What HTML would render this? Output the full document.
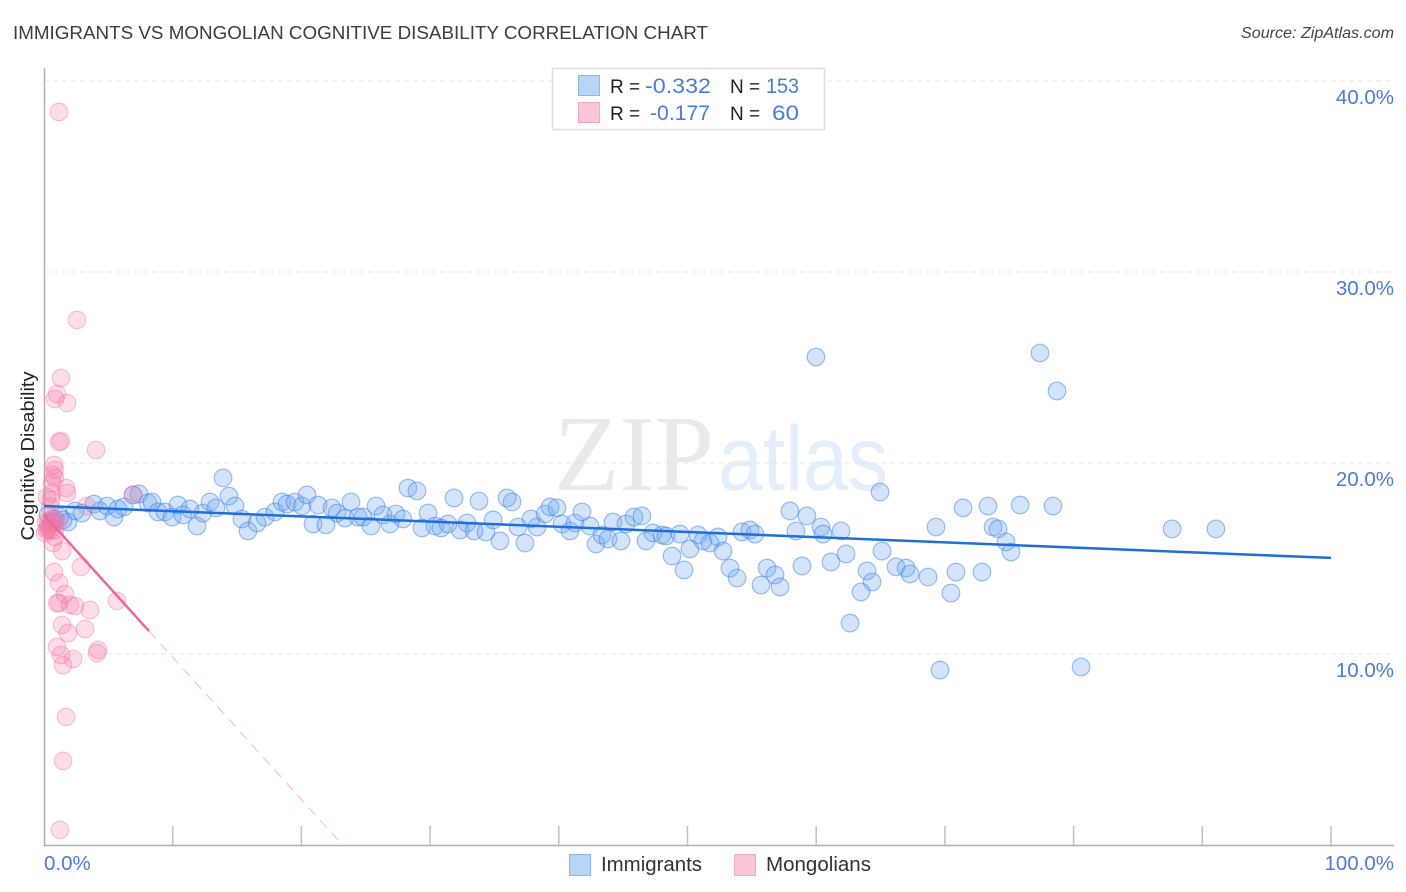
<!DOCTYPE html>
<html lang="en">
<head>
<meta charset="utf-8">
<title>Immigrants vs Mongolian Cognitive Disability Correlation Chart</title>
<style>
  html, body { margin: 0; padding: 0; background: #fff; }
  svg { display: block; font-family: "Liberation Sans", sans-serif; }
</style>
</head>
<body>
<svg id="chart" xmlns="http://www.w3.org/2000/svg" width="1406" height="892" viewBox="0 0 1406 892">
  <rect x="0" y="0" width="1406" height="892" fill="#ffffff"/>
  <text x="13" y="39" font-size="18" fill="#3c3c3c" textLength="695" lengthAdjust="spacingAndGlyphs">IMMIGRANTS VS MONGOLIAN COGNITIVE DISABILITY CORRELATION CHART</text>
  <text x="1241" y="38" font-size="15.5" font-style="italic" fill="#444444" textLength="153" lengthAdjust="spacingAndGlyphs">Source: ZipAtlas.com</text>
  <g>
    <text x="554" y="490" font-family="'Liberation Serif', serif" font-size="108" fill="#e9e9e9" textLength="160" lengthAdjust="spacingAndGlyphs">ZIP</text>
    <text x="718" y="490" font-size="92" fill="#e4edfb" textLength="170" lengthAdjust="spacingAndGlyphs">atlas</text>
  </g>
  <g id="grid"></g>
  <g id="axes"></g>
  <g id="bluePoints"></g>
  <g id="pinkPoints"></g>
  <g id="trends"></g>
  <text transform="translate(34,456) rotate(-90)" font-size="18" fill="#222222" text-anchor="middle" textLength="169" lengthAdjust="spacingAndGlyphs">Cognitive Disability</text>
  <g>
    <rect x="552.5" y="68.5" width="272" height="61" fill="#ffffff" stroke="#dddddd" stroke-width="1.5"/>
    <rect x="578.5" y="75.5" width="21" height="20" fill="#b8d4f7" stroke="#8ab4ec"/>
    <rect x="578.5" y="102.5" width="21" height="20" fill="#fcc6d9" stroke="#f5a8c3"/>
    <text x="610" y="93" font-size="19" fill="#222222">R =</text>
    <text x="645" y="93" font-size="21.5" fill="#4a7bdc" textLength="66" lengthAdjust="spacingAndGlyphs">-0.332</text>
    <text x="730" y="93" font-size="19" fill="#222222">N =</text>
    <text x="766" y="93" font-size="21.5" fill="#4a7bdc" textLength="33" lengthAdjust="spacingAndGlyphs">153</text>
    <text x="610" y="120" font-size="19" fill="#222222">R =</text>
    <text x="650" y="120" font-size="21.5" fill="#4a7bdc" textLength="60" lengthAdjust="spacingAndGlyphs">-0.177</text>
    <text x="730" y="120" font-size="19" fill="#222222">N =</text>
    <text x="772" y="120" font-size="21.5" fill="#4a7bdc" textLength="27" lengthAdjust="spacingAndGlyphs">60</text>
  </g>
  <g>
    <rect x="569.5" y="854.5" width="21" height="21" fill="#b8d4f7" stroke="#8ab4ec"/>
    <text x="601" y="871" font-size="20" fill="#333333" textLength="101" lengthAdjust="spacingAndGlyphs">Immigrants</text>
    <rect x="734.5" y="854.5" width="21" height="21" fill="#fcc6d9" stroke="#f5a8c3"/>
    <text x="766" y="871" font-size="20" fill="#333333" textLength="105" lengthAdjust="spacingAndGlyphs">Mongolians</text>
  </g>
</svg>
<script>
const blueX = [0.31,0.62,0.85,1.24,1.86,1.48,2.41,2.95,3.88,4.35,4.9,5.44,5.75,6.22,6.92,7.38,8.08,8.39,8.86,9.4,9.95,10.41,10.8,11.34,11.89,12.35,12.9,13.36,13.91,14.37,14.84,15.38,15.85,16.55,17.17,17.95,18.49,18.88,19.5,20.05,20.43,21.29,20.9,21.91,22.38,22.77,23.39,23.85,24.4,24.79,25.8,26.34,25.41,26.88,27.35,27.89,28.28,28.98,29.84,29.37,30.38,30.85,31.39,31.86,32.87,32.33,33.42,34.34,33.8,34.9,35.43,35.98,36.37,36.83,37.37,37.84,38.31,38.93,39.32,39.86,40.25,40.87,41.26,41.8,42.42,42.89,43.36,43.82,44.21,44.83,45.22,45.84,46.46,46.78,47.32,48.02,48.33,48.8,49.42,49.73,50.19,50.82,51.2,51.75,52.37,52.76,53.3,53.85,54.23,54.85,55.24,56.18,56.8,55.71,57.19,57.96,59.28,58.43,60.37,60.53,61.93,58.9,61.15,62.32,64.96,65.11,63.95,64.34,63.48,62.63,66.2,66.98,67.29,68.69,70.86,70.47,72.88,69.31,71.41,73.35,75.84,73.74,74.13,74.75,75.14,69.62,59.98,77.39,78.71,78.4,87.65,91.06,80.58];
const blueY = [17.28,16.91,17.07,17.17,16.91,17.02,17.49,17.38,17.85,17.49,17.75,17.17,17.59,17.7,18.33,18.38,17.91,17.96,17.44,17.44,17.17,17.8,17.28,17.59,16.7,17.38,17.96,17.65,19.22,18.27,17.75,17.07,16.44,16.86,17.17,17.44,17.96,17.85,17.96,17.75,18.33,17.8,16.81,16.76,17.65,17.38,17.12,17.96,17.17,17.17,17.75,17.28,16.7,16.81,17.33,17.07,18.69,18.54,17.38,16.6,16.7,16.6,16.81,18.17,16.86,16.49,16.44,16.39,18.01,17.02,15.92,18.17,17.96,16.65,15.81,17.07,16.65,17.33,17.7,17.65,16.81,16.44,16.86,17.44,16.7,15.76,16.23,16.02,16.91,15.92,16.81,17.17,17.23,15.92,16.34,16.23,16.18,15.13,16.28,14.4,15.5,16.23,15.92,15.81,16.13,15.39,14.5,13.98,16.39,16.49,16.28,14.5,14.14,13.61,13.51,17.49,17.23,16.44,16.65,16.28,16.44,14.61,14.82,15.24,18.48,15.39,14.35,13.77,13.25,11.62,14.56,14.5,14.19,14.03,14.29,13.19,14.29,16.65,17.65,17.75,17.8,16.65,16.55,15.87,15.34,9.16,25.55,25.76,23.77,17.75,16.55,16.55,9.32];
const pinkX = [1.17,2.56,1.32,1.01,0.85,1.79,4.04,1.32,1.17,0.78,0.85,0.7,0.85,0.62,1.71,1.79,0.62,0.54,0.47,3.34,6.92,0.7,0.62,0.47,0.85,0.7,1.4,2.87,0.78,1.17,1.63,1.17,1.01,2.02,2.41,3.57,5.67,1.4,1.86,3.19,1.01,1.32,2.25,4.2,4.12,1.48,1.71,1.48,1.24,0.31,0.16,0.47,0.85,0.31,0.62,0.23,0.08,0.85,1.09,0.23];
const pinkY = [38.38,27.49,24.45,23.61,23.35,23.14,20.68,21.15,21.1,19.9,19.64,19.37,19.22,18.95,18.69,18.43,18.43,18.06,17.7,17.75,18.33,17.02,16.86,16.49,16.13,15.81,15.39,14.56,14.29,13.72,13.14,12.67,12.67,12.57,12.51,12.3,12.78,11.52,11.1,11.31,10.37,9.95,9.74,10.21,10.05,9.42,6.7,4.4,0.79,16.81,16.91,16.7,16.91,16.6,17.07,16.49,16.34,16.49,16.91,18.22];
const blueTrendX = [0, 100];
const blueTrendY = [17.75, 15.03];
const pinkSolidX = [0, 8.16];
const pinkSolidY = [17.28, 11.2];
const pinkDashX = [8.16, 23.2];
const pinkDashY = [11.2, 0];
const yGridValues = [10, 20, 30, 40];
const yTickLabels = ["10.0%", "20.0%", "30.0%", "40.0%"];
const xTickValues = [10, 20, 30, 40, 50, 60, 70, 80, 90, 100];
const xEndValues = [0, 100];
const xEndLabels = ["0.0%", "100.0%"];

const NS = "http://www.w3.org/2000/svg";
const xScale = function (v) { return 44 + v * 12.87; };
const yScale = function (v) { return 845 - v * 19.1; };
const make = function (tag, parentId, attrs) {
  const el = document.createElementNS(NS, tag);
  for (const k in attrs) { el.setAttribute(k, attrs[k]); }
  document.getElementById(parentId).appendChild(el);
  return el;
};

yGridValues.forEach(function (v, i) {
  const line = make("line", "grid", { x1: 44, x2: 1394, y1: yScale(v), y2: yScale(v), stroke: "#e4e4e4", "stroke-width": 1, "stroke-dasharray": "5 4" });
  
  
  const label = make("text", "axes", { x: 1394, y: yScale(v) + 23, "font-size": 20.5, fill: "#4a7bdc", "text-anchor": "end" });
  label.textContent = yTickLabels[i];
  
  
});

const yAxis = make("line", "axes", { x1: 44.5, x2: 44.5, y1: 68, y2: 846, stroke: "#b0b0b0", "stroke-width": 1.5 });


const xAxis = make("line", "axes", { x1: 44, x2: 1394, y1: 845.5, y2: 845.5, stroke: "#b0b0b0", "stroke-width": 1.5 });



xTickValues.forEach(function (v) {
  const tick = make("line", "axes", { x1: xScale(v), x2: xScale(v), y1: 826, y2: 845, stroke: "#c0c0c0", "stroke-width": 1.5 });
  
  
});

xEndValues.forEach(function (v, i) {
  const label = make("text", "axes", { x: i === 0 ? xScale(v) : 1394, y: 870, "font-size": 20.5, fill: "#4a7bdc", "text-anchor": i === 0 ? "start" : "end" });
  label.textContent = xEndLabels[i];
  
  
});

blueX.forEach(function (v, i) {
  const dot = make("circle", "bluePoints", { cx: xScale(v), cy: yScale(blueY[i]), r: 8.8, fill: "rgba(110,165,240,0.3)", stroke: "rgba(60,130,230,0.5)", "stroke-width": 1.2 });
  
  
});

pinkX.forEach(function (v, i) {
  const dot = make("circle", "pinkPoints", { cx: xScale(v), cy: yScale(pinkY[i]), r: 8.8, fill: "rgba(242,120,165,0.25)", stroke: "rgba(238,120,165,0.42)", "stroke-width": 1.2 });
  
  
});

const blueTrend = make("line", "trends", { x1: xScale(blueTrendX[0]), y1: yScale(blueTrendY[0]), x2: xScale(blueTrendX[1]), y2: yScale(blueTrendY[1]), stroke: "#1f6fd8", "stroke-width": 2.5 });


const pinkTrend = make("line", "trends", { x1: xScale(pinkSolidX[0]), y1: yScale(pinkSolidY[0]), x2: xScale(pinkSolidX[1]), y2: yScale(pinkSolidY[1]), stroke: "#e8689a", "stroke-width": 2.5 });


const pinkDash = make("line", "trends", { x1: xScale(pinkDashX[0]), y1: yScale(pinkDashY[0]), x2: xScale(pinkDashX[1]), y2: yScale(pinkDashY[1]), stroke: "#f3b3ca", "stroke-width": 1, "stroke-dasharray": "10 7" });


</script>
</body>
</html>
